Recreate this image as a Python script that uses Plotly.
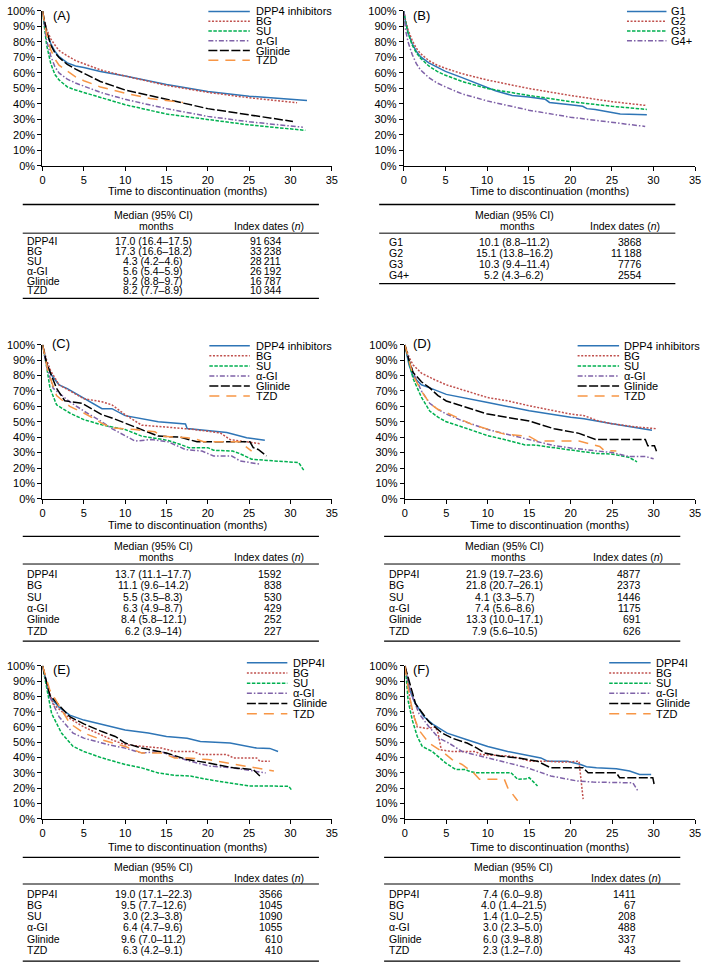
import plotly.graph_objects as go

W, H = 709, 971
FONT = "Liberation Sans, Arial, sans-serif"

# ---------------- panel A ----------------
A_DPP4_T = [0, 0.2, 0.5, 1, 1.5, 2, 3, 4, 5, 7, 10, 15, 20, 25, 30, 32]
A_DPP4_S = [100, 93, 86, 79, 74, 70.5, 66.5, 64.5, 63.5, 61, 58, 52.5, 48, 45, 43, 42.3]
A_BG_T = [0, 0.2, 0.5, 1, 1.5, 2, 3, 4, 5, 7, 10, 15, 20, 25, 30.8]
A_BG_S = [100, 94, 88, 82, 78, 74.5, 71, 68, 66, 62, 58, 52, 47.5, 44, 40.8]
A_SU_T = [0, 0.2, 0.5, 1, 1.5, 2, 3, 4, 5, 7, 10, 15, 20, 25, 31.8]
A_SU_S = [100, 90, 78, 66, 59, 55.5, 51, 49, 47.5, 44, 39.5, 33.5, 30, 26.5, 23]
A_AGI_T = [0, 0.2, 0.5, 1, 1.5, 2, 3, 4, 5, 7, 10, 15, 20, 25, 31.5]
A_AGI_S = [100, 91, 81, 71, 64, 60, 56, 53.5, 51.5, 47.5, 43, 37, 32, 28.5, 25]
A_GLI_T = [0, 0.2, 0.5, 1, 1.5, 2, 3, 4, 5, 7, 10, 15, 20, 25, 30.3]
A_GLI_S = [100, 94, 87, 78, 73, 70, 65.5, 62.5, 60, 54.5, 49, 43, 37, 33, 28.7]
A_TZD_T = [0, 0.2, 0.5, 1, 1.5, 2, 3, 4, 5, 7, 10, 13, 17]
A_TZD_S = [100, 93, 85, 75, 69, 65, 61, 57.5, 55, 51, 47, 43.5, 41]

# ---------------- panel B ----------------
B_G1_T = [0, 0.2, 0.5, 1, 1.5, 2, 3, 4, 5, 7, 9, 11, 13, 15, 17, 17.5, 20, 21.5, 22, 23, 25, 26, 29.2]
B_G1_S = [100, 93, 86, 79, 74, 70.5, 66.5, 63.5, 61, 57, 52.5, 48.5, 45.5, 44.5, 43, 41, 39.5, 38.5, 37, 36.5, 34.5, 33.5, 33]
B_G2_T = [0, 0.2, 0.5, 1, 1.5, 2, 3, 4, 5, 7, 10, 15, 20, 25, 29.2]
B_G2_S = [100, 94, 88, 81, 76, 72.5, 68, 65, 63, 59.5, 55.5, 50, 45.5, 41.5, 39]
B_G3_T = [0, 0.2, 0.5, 1, 1.5, 2, 3, 4, 5, 7, 10, 15, 20, 25, 29.2]
B_G3_S = [100, 93, 86, 78, 73, 69.5, 64.5, 61, 58.5, 54.5, 50, 45.5, 41.5, 38.5, 36.5]
B_G4_T = [0, 0.2, 0.5, 1, 1.5, 2, 3, 4, 5, 7, 10, 15, 20, 25, 29]
B_G4_S = [100, 88, 80, 72, 66, 62, 57, 53.5, 51, 46.5, 42, 36, 31.5, 28, 25.5]

# ---------------- panel C ----------------
C_DPP4_T = [0, 0.5, 1, 2, 3, 5, 7.2, 8.4, 10, 14, 17.3, 17.5, 20, 22.3, 24.7, 26.9]
C_DPP4_S = [100, 88, 81, 74, 71.5, 65.5, 58.5, 58.5, 54, 50, 48.6, 45.6, 44.3, 43, 39.6, 38]
C_BG_T = [0, 0.5, 1, 2, 3, 5, 7.2, 8.4, 10, 12, 15.2, 18.3, 21.5, 22.7, 26.3]
C_BG_S = [100, 90, 83, 74, 71, 65, 63, 61, 54.6, 47.8, 46.5, 45, 42.8, 38.5, 35.8]
C_SU_T = [0, 0.5, 0.9, 1.7, 3.3, 5, 7.2, 10, 12, 15.2, 16.7, 17.7, 20, 20.7, 23, 23.9, 25.3, 30.6, 31, 31.6]
C_SU_S = [100, 86, 72, 61, 55.7, 51.4, 48, 45, 40.7, 37.9, 35.3, 33.2, 33.2, 31.5, 31, 29.3, 25.7, 23.6, 23.5, 18.6]
C_AGI_T = [0, 0.5, 1.3, 3.3, 5, 7.2, 8.4, 11.2, 13.2, 15.2, 17.3, 19.3, 20.7, 22.9, 23.9, 26.3]
C_AGI_S = [100, 86, 71.7, 63, 57, 50, 45.6, 37.5, 38.5, 37, 32, 31, 27.8, 27.8, 24.6, 22.5]
C_GLI_T = [0, 0.5, 1.7, 2.7, 4.8, 7.2, 8.4, 10.6, 12.4, 14, 16.7, 18.7, 25.1, 25.5, 26.1, 27.1]
C_GLI_S = [100, 88, 71.7, 63.6, 62, 54.6, 52.5, 47.8, 43.9, 40.7, 40, 37, 37, 33.2, 32, 27.8]
C_TZD_T = [0, 0.7, 1.7, 3.3, 5, 7.2, 8.4, 11.2, 13.6, 14.4, 17.5, 18.7, 19.5, 23.9, 24.5, 25.3]
C_TZD_S = [100, 82, 67, 60, 55.7, 49, 46, 45, 43.5, 40.7, 39.6, 38.5, 37, 37, 34.3, 31]

# ---------------- panel D ----------------
D_DPP4_T = [0, 0.5, 1, 2, 3, 5, 10, 15, 20, 21.6, 25, 27.2, 29.8]
D_DPP4_S = [100, 87, 79.4, 74, 72, 67.8, 62.5, 57.2, 53, 52, 48.7, 46.6, 44.5]
D_BG_T = [0, 0.5, 1, 2, 3.6, 5, 10, 12.4, 15, 20, 21.6, 23.2, 25, 28, 30.4]
D_BG_S = [100, 92, 86.9, 81.6, 77.3, 74, 65.7, 63.6, 60.4, 55, 54, 50.8, 48.7, 46.6, 45.5]
D_SU_T = [0, 0.5, 1, 2, 3, 4, 5, 7, 10, 12, 14.5, 15.5, 20, 23, 25, 27, 28]
D_SU_S = [100, 88, 78, 66, 57, 53, 50, 46.5, 41, 38.5, 35, 35, 31.5, 29.5, 29, 27, 24]
D_AGI_T = [0, 0.5, 1, 2, 3, 4, 5, 7, 10, 15, 18, 20, 25, 27, 29, 30]
D_AGI_S = [100, 90, 82, 70, 62, 58, 55, 50.5, 45, 38.5, 34.5, 33, 30, 27.5, 27.5, 26]
D_GLI_T = [0, 0.5, 1, 2, 3, 4, 5, 7, 10, 15, 18, 21, 23, 29, 29.3, 30.1, 30.4]
D_GLI_S = [100, 90, 82, 76, 72, 67, 63.5, 60, 55, 50.5, 45.5, 42.5, 38.5, 38.5, 34.5, 34.5, 30]
D_TZD_T = [0, 0.5, 1, 2, 3, 4, 5, 8, 10, 12, 15, 16, 21, 23.5, 24, 25.5]
D_TZD_S = [100, 89, 80, 70, 62, 58, 56, 48.5, 45.5, 42, 40.5, 37.5, 37.5, 34, 31.5, 31]

# ---------------- panel E ----------------
E_DPP4_T = [0, 0.5, 0.9, 2, 3.3, 5, 10, 12.8, 15, 17.5, 19.1, 22.7, 25.9, 27.5, 28.5]
E_DPP4_S = [100, 88, 79.6, 73, 67.7, 64.5, 58, 56, 53.8, 52.7, 50.5, 49.5, 46.2, 46, 44]
E_BG_T = [0, 0.5, 1.3, 3.3, 5, 8.4, 10, 14.4, 16, 18.3, 19.1, 22.3, 23.1, 25.9, 26.3, 27.5]
E_BG_S = [100, 88, 75, 65.6, 60, 51.6, 48.4, 46.2, 44, 44, 42, 42, 39.8, 39.8, 37.6, 37.6]
E_SU_T = [0, 0.5, 1.1, 2.3, 3.7, 5, 7.2, 10, 12, 14, 16, 17.9, 19.9, 22.3, 25, 29.8, 30.2]
E_SU_S = [100, 86, 68.8, 56, 47.3, 44, 39.8, 35.5, 33.3, 30, 28.4, 28, 25.8, 23.7, 21.5, 21.3, 18.3]
E_AGI_T = [0, 0.5, 0.9, 2, 3.7, 5, 8, 10, 12, 14.4, 15.2, 17.9, 20.3, 23.1, 25.5, 27]
E_AGI_S = [100, 88, 79.6, 66.7, 56, 52.7, 48.4, 46.2, 43, 44, 42, 37.6, 34.4, 33.3, 31.2, 30]
E_GLI_T = [0, 0.5, 0.9, 3.3, 5, 7.2, 8.8, 10, 12, 15, 17.5, 20, 23.1, 25.5, 26.3]
E_GLI_S = [100, 89, 80.6, 66.7, 62, 57, 53.8, 49.5, 46.2, 43, 38.7, 36.6, 33.3, 32.2, 28]
E_TZD_T = [0, 0.5, 0.9, 3.3, 5, 7.2, 10, 12, 14.4, 16, 17.5, 20, 22.3, 25.5, 28]
E_TZD_S = [100, 91, 83.9, 62.4, 56, 51.6, 47.3, 43, 43, 39.8, 39.8, 38.7, 36.6, 33.3, 31.2]

# ---------------- panel F ----------------
F_DPP4_T = [0, 0.5, 1.1, 2.3, 3.5, 5.1, 7.5, 10, 12.4, 14.4, 16.4, 17.2, 19.6, 21.2, 21.9, 23.1, 25.5, 27.1, 28.3, 29.7]
F_DPP4_S = [100, 86, 77, 66.7, 61.3, 56, 51.6, 47.3, 44, 42, 39.8, 37.6, 37.6, 35.5, 34, 33.3, 32.7, 31.2, 29, 29]
F_BG_T = [0, 0.1, 0.7, 1.5, 2.7, 3.7, 4, 4.4, 5.7, 8.5, 9.2, 12.8, 13.6, 15.2, 17.2, 19.2, 21, 21.5]
F_BG_S = [100, 99, 75, 60, 59, 60, 56, 45, 44, 44, 42, 40.9, 39.8, 37.6, 37.6, 37, 37.6, 12.9]
F_SU_T = [0, 0.1, 0.4, 0.9, 1.5, 2.1, 3.3, 4.9, 6.1, 7.3, 7.7, 8.5, 12.8, 13.6, 14.6, 15, 16]
F_SU_S = [100, 97, 77, 64.5, 53.8, 47.3, 44, 36.6, 32.3, 32.3, 31.2, 30.1, 30.1, 25.8, 26.2, 26.9, 21.5]
F_AGI_T = [0, 0.7, 1.7, 2.9, 4.1, 5.3, 6.9, 10, 12.4, 14.8, 17.6, 20.8, 22.7, 26.7, 27.5, 28.1]
F_AGI_S = [100, 82.8, 68.8, 60.2, 52.7, 49.5, 44, 39.8, 36.6, 33.3, 28, 24.7, 24, 23.7, 23.5, 18.3]
F_GLI_T = [0, 0.5, 1.3, 2.9, 4.5, 5.7, 7.5, 8.7, 9.6, 11.6, 13.6, 16, 17.6, 21.5, 22.1, 25.5, 25.9, 29.9, 30.1]
F_GLI_S = [100, 90, 75, 63.4, 56, 52.7, 49.5, 46.2, 43, 40.9, 39.8, 37.6, 33.3, 33.3, 30.1, 30.1, 26.9, 26.9, 21.5]
F_TZD_T = [0, 0.5, 1.1, 1.7, 2.9, 4.5, 5.7, 6.9, 8.3, 9, 12, 12.4, 13.6]
F_TZD_S = [100, 81.7, 66.7, 58, 49.5, 44, 38.7, 35.5, 30, 25.8, 25.8, 20.4, 11.8]

# ---------------- tables ----------------
DRUGS = ["DPP4I", "BG", "SU", "α-GI", "Glinide", "TZD"]
GROUPS = ["G1", "G2", "G3", "G4+"]
A_MED = ["17.0 (16.4–17.5)", "17.3 (16.6–18.2)", "4.3 (4.2–4.6)", "5.6 (5.4–5.9)", "9.2 (8.8–9.7)", "8.2 (7.7–8.9)"]
A_N = ["91\u2009634", "33\u2009238", "28\u2009211", "26\u2009192", "16\u2009787", "10\u2009344"]
B_MED = ["10.1 (8.8–11.2)", "15.1 (13.8–16.2)", "10.3 (9.4–11.4)", "5.2 (4.3–6.2)"]
B_N = ["3868", "11\u2009188", "7776", "2554"]
C_MED = ["13.7 (11.1–17.7)", "11.1 (9.6–14.2)", "5.5 (3.5–8.3)", "6.3 (4.9–8.7)", "8.4 (5.8–12.1)", "6.2 (3.9–14)"]
C_N = ["1592", "838", "530", "429", "252", "227"]
D_MED = ["21.9 (19.7–23.6)", "21.8 (20.7–26.1)", "4.1 (3.3–5.7)", "7.4 (5.6–8.6)", "13.3 (10.0–17.1)", "7.9 (5.6–10.5)"]
D_N = ["4877", "2373", "1446", "1175", "691", "626"]
E_MED = ["19.0 (17.1–22.3)", "9.5 (7.7–12.6)", "3.0 (2.3–3.8)", "6.4 (4.7–9.6)", "9.6 (7.0–11.2)", "6.3 (4.2–9.1)"]
E_N = ["3566", "1045", "1090", "1055", "610", "410"]
F_MED = ["7.4 (6.0–9.8)", "4.0 (1.4–21.5)", "1.4 (1.0–2.5)", "3.0 (2.3–5.0)", "6.0 (3.9–8.8)", "2.3 (1.2–7.0)"]
F_N = ["1411", "67", "208", "488", "337", "43"]

# colour / dash per drug
STYLE = {
    "DPP4": ("#2E75B6", "solid"),
    "BG": ("#C0504D", "2px,1.6px"),
    "SU": ("#00B050", "3.5px,1.5px"),
    "AGI": ("#7F62A8", "5px,2px,1.5px,2px"),
    "GLI": ("#000000", "9px,2.5px"),
    "TZD": ("#F79646", "10px,7px"),
}

def drug_series(dpp4_name, d):
    return [
        (dpp4_name, "DPP4", d[0], d[1]),
        ("BG", "BG", d[2], d[3]),
        ("SU", "SU", d[4], d[5]),
        ("α-GI", "AGI", d[6], d[7]),
        ("Glinide", "GLI", d[8], d[9]),
        ("TZD", "TZD", d[10], d[11]),
    ]

# geometry in pixels: plot box, legend, panel label, table
panels = [
    dict(lab="(A)", box=(40, 333, 5, 162), labpos=(59, 10), leg=(208, 250, 254, 5.5, 9.9),
         series=drug_series("DPP4 inhibitors", [A_DPP4_T, A_DPP4_S, A_BG_T, A_BG_S, A_SU_T, A_SU_S,
                                                A_AGI_T, A_AGI_S, A_GLI_T, A_GLI_S, A_TZD_T, A_TZD_S]),
         tab=dict(x0=20, x1=320, lx=22, mx=152, nx=284, hx=269, title=187, top=201, h1=212, h2=223,
                  mid=230, row0=238, step=10, bot=296),
         rows=DRUGS, med=A_MED, n=A_N),
    dict(lab="(B)", box=(406, 701, 5, 162), labpos=(424, 10), leg=(632, 672, 675, 5.5, 9.9),
         series=[("G1", "DPP4", B_G1_T, B_G1_S), ("G2", "BG", B_G2_T, B_G2_S),
                 ("G3", "SU", B_G3_T, B_G3_S), ("G4+", "AGI", B_G4_T, B_G4_S)],
         tab=dict(x0=381, x1=681, lx=389, mx=518, nx=649, hx=630, title=187, top=201, h1=212, h2=223,
                  mid=230, row0=239, step=11, bot=281),
         rows=GROUPS, med=B_MED, n=B_N),
    dict(lab="(C)", box=(40, 333, 343, 499), labpos=(59, 342), leg=(209, 250, 254, 344, 10.2),
         series=drug_series("DPP4 inhibitors", [C_DPP4_T, C_DPP4_S, C_BG_T, C_BG_S, C_SU_T, C_SU_S,
                                                C_AGI_T, C_AGI_S, C_GLI_T, C_GLI_S, C_TZD_T, C_TZD_S]),
         tab=dict(x0=20, x1=320, lx=22, mx=152, nx=285, hx=269, title=526, top=537, h1=547, h2=558,
                  mid=565, row0=575, step=11.5, bot=643),
         rows=DRUGS, med=C_MED, n=C_N),
    dict(lab="(D)", box=(407, 701, 343, 499), labpos=(424, 342), leg=(582, 624, 627, 344, 10.2),
         series=drug_series("DPP4 inhibitors", [D_DPP4_T, D_DPP4_S, D_BG_T, D_BG_S, D_SU_T, D_SU_S,
                                                D_AGI_T, D_AGI_S, D_GLI_T, D_GLI_S, D_TZD_T, D_TZD_S]),
         tab=dict(x0=386, x1=686, lx=389, mx=508, nx=648, hx=633, title=526, top=537, h1=547, h2=558,
                  mid=565, row0=575, step=11.5, bot=643),
         rows=DRUGS, med=D_MED, n=D_N),
    dict(lab="(E)", box=(40, 333, 668, 823), labpos=(59, 672), leg=(247, 288, 292, 665, 10.3),
         series=drug_series("DPP4I", [E_DPP4_T, E_DPP4_S, E_BG_T, E_BG_S, E_SU_T, E_SU_S,
                                      E_AGI_T, E_AGI_S, E_GLI_T, E_GLI_S, E_TZD_T, E_TZD_S]),
         tab=dict(x0=20, x1=320, lx=22, mx=152, nx=286, hx=269, title=852, top=862, h1=872, h2=883,
                  mid=889, row0=899, step=11.3, bot=967),
         rows=DRUGS, med=E_MED, n=E_N),
    dict(lab="(F)", box=(407, 701, 668, 823), labpos=(424, 672), leg=(614, 656, 659, 665, 10.3),
         series=drug_series("DPP4I", [F_DPP4_T, F_DPP4_S, F_BG_T, F_BG_S, F_SU_T, F_SU_S,
                                      F_AGI_T, F_AGI_S, F_GLI_T, F_GLI_S, F_TZD_T, F_TZD_S]),
         tab=dict(x0=386, x1=686, lx=389, mx=517, nx=643, hx=631, title=852, top=862, h1=872, h2=883,
                  mid=889, row0=899, step=11.3, bot=967),
         rows=DRUGS, med=F_MED, n=F_N),
]


def X(p):
    return p / W


def Y(p):
    return 1 - p / H


def text(x, y, s, size=10.5, anchor="left"):
    return dict(x=X(x), y=Y(y), xref="paper", yref="paper", text=s, showarrow=False,
                xanchor=anchor, yanchor="middle", font=dict(family=FONT, size=size, color="black"))


def hline(x0, x1, y, width=1.3, color="black", dash="solid"):
    return dict(type="line", xref="paper", yref="paper", x0=X(x0), x1=X(x1), y0=Y(y), y1=Y(y),
                line=dict(color=color, width=width, dash=dash))


fig = go.Figure()
shapes, annotations = [], []
layout_axes = {}

for i, p in enumerate(panels, 1):
    sfx = "" if i == 1 else str(i)
    x0, x1, y0, y1 = p["box"]
    for name, key, t, s in p["series"]:
        color, dash = STYLE[key]
        fig.add_trace(go.Scatter(
            x=t, y=[v / 100 for v in s], xaxis="x" + sfx, yaxis="y" + sfx,
            mode="lines", line=dict(color=color, width=1.5, dash=dash),
            showlegend=False, hoverinfo="skip"
        ))
    axis_common = dict(showline=True, linecolor="black", linewidth=1.3, ticks="outside", ticklen=4,
                       tickcolor="black", tickwidth=1.2, showgrid=False, zeroline=False,
                       tickfont=dict(family=FONT, size=11, color="black"))
    layout_axes["xaxis" + sfx] = dict(axis_common, domain=[X(x0), X(x1)], anchor="y" + sfx,
                                      range=[0, 35], tick0=0, dtick=5)
    layout_axes["yaxis" + sfx] = dict(axis_common, domain=[Y(y1), Y(y0)], anchor="x" + sfx,
                                      range=[0, 1], tick0=0, dtick=0.1, tickformat=".0%")

    # panel label
    annotations.append(text(p["labpos"][0], p["labpos"][1], p["lab"], size=13, anchor="center"))

    # legend
    lx0, lx1, tx, ly, lstep = p["leg"]
    for k, (name, key, _, _) in enumerate(p["series"]):
        color, dash = STYLE[key]
        yy = ly + k * lstep
        shapes.append(hline(lx0, lx1, yy, width=1.5, color=color, dash=dash))
        annotations.append(text(tx, yy, name, size=11))

    # x title + table
    tb = p["tab"]
    annotations.append(text((x0 + x1) / 2, tb["title"], "Time to discontinuation (months)", size=11, anchor="center"))
    shapes.append(hline(tb["x0"], tb["x1"], tb["top"]))
    shapes.append(hline(tb["x0"], tb["x1"], tb["mid"], width=1.0))
    shapes.append(hline(tb["x0"], tb["x1"], tb["bot"]))
    annotations.append(text(tb["mx"], tb["h1"], "Median (95% CI)", anchor="center"))
    annotations.append(text(tb["mx"] + 3, tb["h2"], "months", anchor="center"))
    annotations.append(text(tb["hx"], tb["h2"], "Index dates (<i>n</i>)", anchor="center"))
    for k, (r, m, n) in enumerate(zip(p["rows"], p["med"], p["n"])):
        yy = tb["row0"] + k * tb["step"]
        annotations.append(text(tb["lx"], yy, r))
        annotations.append(text(tb["mx"], yy, m, anchor="center"))
        annotations.append(text(tb["nx"], yy, n, anchor="right"))

fig.update_layout(
    width=W, height=H,
    margin=dict(l=0, r=0, t=0, b=0),
    paper_bgcolor="white", plot_bgcolor="white",
    showlegend=False,
    shapes=shapes, annotations=annotations,
    **layout_axes
)

# drop the default page margin so the figure sits at the window's top-left corner
fig.write_html("out.html", config={"displayModeBar": False},
               post_script="document.body.style.margin='0px';")
